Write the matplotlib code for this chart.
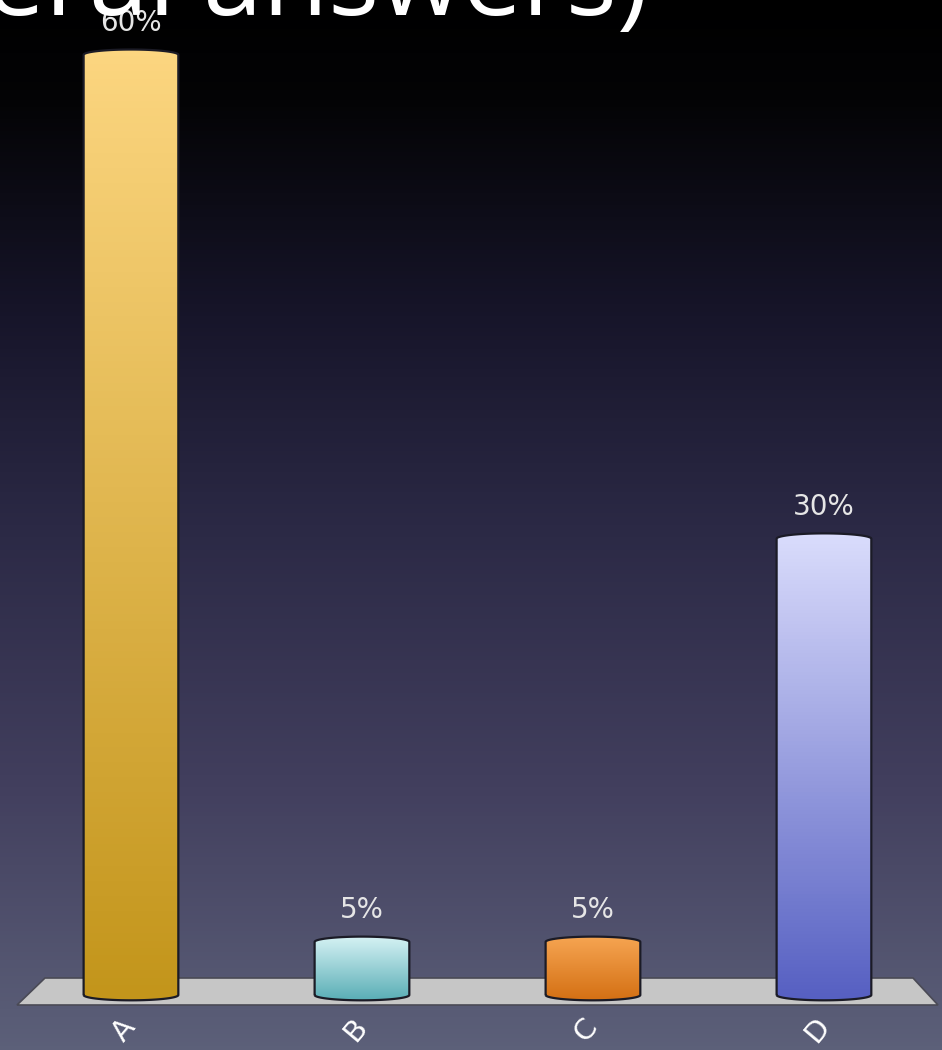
import matplotlib
matplotlib.use("Agg")
import matplotlib.pyplot as plt
import numpy as np
from matplotlib.colors import LinearSegmentedColormap
from matplotlib.patches import PathPatch, Polygon
from matplotlib.path import Path

# --- Data ---
categories = ["A", "B", "C", "D"]
percentages = np.array([60, 5, 5, 30])
top_colors = ["#fcd680", "#d6f2f4", "#f6a552", "#dadcfc"]
bottom_colors = ["#c3951b", "#5aaeb6", "#d47014", "#5660c2"]
title_text = "eral answers)"

# --- Layout constants ---
W, H = 942, 1050
FLOOR = 1.71      # value level where the bars stand on the 3D floor
BAR_W = 0.41
CAP = 0.33        # half height of the cylinder caps (data units)

fig = plt.figure(figsize=(W / 100, H / 100), dpi=100)

# background gradient
bg = fig.add_axes([0, 0, 1, 1], zorder=0)
bg_cmap = LinearSegmentedColormap.from_list(
    "bg", [(0, "#000000"), (0.1, "#040406"), (0.3, "#17152a"),
           (0.5, "#2b2945"), (0.75, "#423f5e"), (1.0, "#5c6079")])
bg.imshow(np.linspace(0, 1, 256).reshape(-1, 1), cmap=bg_cmap, aspect="auto",
          extent=(0, 1, 0, 1), origin="upper")
bg.set_axis_off()

# floor
floor_px = [(17, 1005), (45, 978), (913, 978), (938, 1005)]
fig.patches.append(Polygon([(x / W, 1 - y / H) for x, y in floor_px], closed=True,
                           transform=fig.transFigure, facecolor="#c6c6c6",
                           edgecolor="#4a4a55", linewidth=1.2, zorder=1))

ax = fig.add_axes([0, 0, 1, 1], zorder=2)
ax.patch.set_alpha(0)
ax.set_xlim(-0.567, 3.511)
ax.set_ylim(-1.70, 63.4)
ax.set_axis_off()

xs = np.arange(len(categories))
bars = ax.bar(xs, percentages - FLOOR, bottom=FLOOR, width=BAR_W, alpha=0)

t_top = np.linspace(np.pi, 0, 40)
t_bot = np.linspace(0, -np.pi, 40)
for bar, c_top, c_bot in zip(bars, top_colors, bottom_colors):
    x0, y0 = bar.get_x(), bar.get_y()
    w, h = bar.get_width(), bar.get_height()
    xc, y1 = x0 + w / 2, y0 + h
    verts = [(x0, y0), (x0, y1)]
    verts += list(zip(xc + w / 2 * np.cos(t_top), y1 + CAP * np.sin(t_top)))
    verts += [(x0 + w, y0)]
    verts += list(zip(xc + w / 2 * np.cos(t_bot), y0 + CAP * np.sin(t_bot)))
    verts += [(x0, y0)]
    path = Path(verts)
    patch = PathPatch(path, facecolor="none", edgecolor="#1b1b26", linewidth=1.6, zorder=4)
    ax.add_patch(patch)
    cmap = LinearSegmentedColormap.from_list("bar", [c_bot, c_top])
    grad = np.linspace(0, 1, 128).reshape(-1, 1)
    im = ax.imshow(grad, cmap=cmap, aspect="auto", origin="lower", zorder=3,
                   extent=(x0, x0 + w, y0 - CAP, y1 + CAP))
    im.set_clip_path(patch)

# value labels
for x, v in zip(xs, percentages):
    ax.annotate(f"{v}%", (x, v), xytext=(0, 23), textcoords="offset points",
                ha="center", va="center", fontsize=20, color="#e6e6e6",
                family="DejaVu Sans")

# category labels lying on the floor
for x, lab in zip(xs, categories):
    ax.annotate(lab, (x, 0.019), xycoords=("data", "axes fraction"),
                xytext=(-5, 0), textcoords="offset points", ha="center", va="center",
                rotation=50, fontsize=21, color="white", family="DejaVu Sans")

# cut-off title
fig.text(-0.016, 1 - 15 / H, title_text, fontsize=77, color="white",
         family="Open Sans", ha="left", va="baseline", zorder=5)

fig.savefig("out.png", dpi=100)
